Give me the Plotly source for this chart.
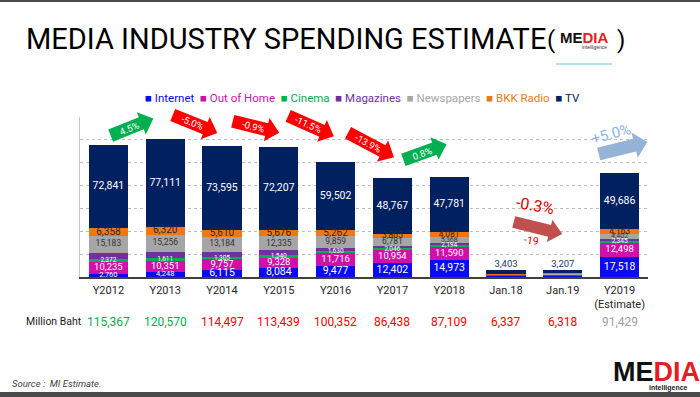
import math
import plotly.graph_objects as go

# ---------------- data ----------------
categories = ["Y2012", "Y2013", "Y2014", "Y2015", "Y2016", "Y2017", "Y2018",
              "Jan.18", "Jan.19", "Y2019<br>(Estimate)"]
internet = [2760, 4248, 6115, 8084, 9477, 12402, 14973, 900, 1150, 17518]
out_of_home = [10235, 10351, 9757, 9328, 11716, 10954, 11590, 950, 1000, 12498]
cinema = [2372, 1611, 1305, 1540, 1630, 2046, 2194, 200, 180, 2345]
magazines = [5618, 5673, 4931, 4269, 2906, 1683, 1122, 150, 110, 817]
newspapers = [15183, 15256, 13184, 12335, 9859, 6781, 5368, 400, 350, 4402]
bkk_radio = [6358, 6320, 5610, 5676, 5262, 3805, 4081, 334, 321, 4163]
tv = [72841, 77111, 73595, 72207, 59502, 48767, 47781, 3403, 3207, 49686]
totals = [115367, 120570, 114497, 113439, 100352, 86438, 87109, 6337, 6318, 91429]

series_names = ["Internet", "Out of Home", "Cinema", "Magazines", "Newspapers", "BKK Radio", "TV"]
series_values = [internet, out_of_home, cinema, magazines, newspapers, bkk_radio, tv]

# ---------------- styles ----------------
colors = ["#0A0AF5", "#D010A8", "#00B050", "#7030A0", "#A6A6A6", "#F07814", "#002060"]
total_colors = ["#00B050", "#00B050"] + ["#FF0000"] * 7 + ["#A0A0A0"]
FONT = "Roboto, sans-serif"
LOGO_FONT = "Liberation Sans, Arial, sans-serif"

# pixel layout of plot area
L, R, T, B = 80, 648, 117, 277
W, H = 700, 397


def pp(px, py):
    return (px - L) / (R - L), (B - py) / (B - T)


fig = go.Figure()

n = len(categories)
is_jan = ["Jan" in c for c in categories]
base = [0] * n
mids = []
for name, vals, col in zip(series_names, series_values, colors):
    fig.add_trace(go.Bar(x=categories, y=vals, name=name, marker_color=col,
                         marker_line_width=0, showlegend=False, hoverinfo="x+y+name"))
    mids.append([b + v / 2 for b, v in zip(base, vals)])
    base = [b + v for b, v in zip(base, vals)]


def fmt(v):
    return f"{v:,}"


def label_trace(idx, color, size_rule, skip_jan=True):
    vals = series_values[idx]
    xs, ys, ts, ss = [], [], [], []
    for i in range(n):
        if skip_jan and is_jan[i]:
            continue
        xs.append(categories[i]); ys.append(mids[idx][i]); ts.append(fmt(vals[i]))
        ss.append(size_rule(vals[i]))
    fig.add_trace(go.Scatter(x=xs, y=ys, text=ts, mode="text", showlegend=False,
                             textfont=dict(family=FONT, size=ss, color=color),
                             hoverinfo="skip", cliponaxis=False))


label_trace(0, "white", lambda v: 10.5 if v > 5000 else 7.5)
label_trace(1, "white", lambda v: 9.5)
label_trace(2, "white", lambda v: 6.5)
label_trace(4, "#333333", lambda v: 8.5 if v > 6000 else 7)
label_trace(5, "#2a2a2a", lambda v: 10 if v > 4500 else 8.5)

# TV labels: inside for years, above bar for January bars
tv_y = [totals[i] if is_jan[i] else mids[6][i] for i in range(n)]
tv_pos = ["top center" if is_jan[i] else "middle center" for i in range(n)]
tv_col = ["#1F3864" if is_jan[i] else "white" for i in range(n)]
tv_size = [9.5 if is_jan[i] else 10.5 for i in range(n)]
fig.add_trace(go.Scatter(x=categories, y=tv_y, text=[fmt(v) for v in tv], mode="text",
                         textposition=tv_pos, showlegend=False, hoverinfo="skip",
                         textfont=dict(family=FONT, size=tv_size, color=tv_col),
                         cliponaxis=False))

shapes = []
annotations = []


def ann(px, py, text, size, color="black", angle=0, xanchor="center", family=FONT, yanchor="middle"):
    x, y = pp(px, py)
    annotations.append(dict(x=x, y=y, xref="paper", yref="paper", text=text, showarrow=False,
                            xanchor=xanchor, yanchor=yanchor, textangle=angle,
                            font=dict(family=family, size=size, color=color)))


def arrow(cx, cy, length, angle, color, body=13, head=24, hl=13):
    pts = [(-length / 2, -body / 2), (length / 2 - hl, -body / 2), (length / 2 - hl, -head / 2),
           (length / 2, 0), (length / 2 - hl, head / 2), (length / 2 - hl, body / 2),
           (-length / 2, body / 2)]
    a = math.radians(angle)
    path = ""
    for k, (x, y) in enumerate(pts):
        sx = cx + x * math.cos(a) - y * math.sin(a)
        sy = cy + x * math.sin(a) + y * math.cos(a)
        px_, py_ = pp(sx, sy)
        path += ("M" if k == 0 else "L") + f"{px_:.5f},{py_:.5f} "
    path += "Z"
    shapes.append(dict(type="path", path=path, xref="paper", yref="paper",
                       fillcolor=color, line=dict(width=0), layer="above"))


# growth arrows between consecutive years (computed from totals)
arrow_specs = [  # (cx, cy, length, angle)
    (132, 127, 46, -22), (195, 124, 48, 22), (256, 127, 48, 14),
    (311, 126, 50, 24), (371, 145, 52, 28), (425, 152, 46, -20),
]
for k, (cx, cy, ln, ang) in enumerate(arrow_specs):
    g = totals[k + 1] / totals[k] - 1
    col = "#00B050" if g >= 0 else "#FF0000"
    arrow(cx, cy, ln, ang, col)
    ann(cx - 3 * math.cos(math.radians(ang)), cy - 3 * math.sin(math.radians(ang)),
        f"{g * 100:.1f}%", 9.5, "white", ang)

# January comparison
g_jan = totals[8] / totals[7] - 1
arrow(538, 228, 50, 14, "#C0504D", body=12, head=23)
ann(535, 205, f"{g_jan * 100:.1f}%", 16, "#E00000", 10)
ann(531, 240, f"{totals[8] - totals[7]:,}", 10.5, "#E00000", 8)

# 2019 estimate
g_19 = totals[9] / totals[6] - 1
arrow(623, 148, 50, -14, "#95B3D7", body=13, head=26)
ann(611, 134, f"+{g_19 * 100:.1f}%", 15, "#8DB4E2", -15)

# totals row
ann(84, 321, "Million Baht", 10.5, "#1a1a1a", xanchor="right")
for i in range(n):
    annotations.append(dict(x=categories[i], y=pp(0, 322)[1], xref="x", yref="paper",
                            yanchor="middle", text=fmt(totals[i]), showarrow=False,
                            font=dict(family=FONT, size=12, color=total_colors[i])))

# legend (single line of coloured items)
leg = "&nbsp;&nbsp;".join(
    f"<span style='color:{c}'>■ {nm}</span>" for nm, c in zip(series_names, colors))
ann(362, 98, leg, 11.5)

# title and logos
ann(24, 39, "MEDIA INDUSTRY SPENDING ESTIMATE", 29, "black", xanchor="left")
ann(551, 40, "(", 24, "black")
ann(584, 37, "<b>ME<span style='color:#E31E24'>DIA</span></b>", 15, "#111111", family=LOGO_FONT)
ann(594, 47, "intelligence", 5, "#333333", family=LOGO_FONT)
ann(621, 40, ")", 24, "black")
x0, y0 = pp(556, 64); x1, y1 = pp(612, 64)
shapes.append(dict(type="line", x0=x0, y0=y0, x1=x1, y1=y1, xref="paper", yref="paper",
                   line=dict(color="#9DD3F0", width=1.5)))

ann(656, 372, "<b>ME<span style='color:#E31E24'>DIA</span></b>", 27, "#111111", family=LOGO_FONT)
ann(690, 388, "<b>intelligence</b>", 7, "#222222", xanchor="right", family=LOGO_FONT)
ann(10, 383, "<i>Source :  MI Estimate.</i>", 9.5, "#404040", xanchor="left")

# top / bottom frame bands
for (ya, yb) in [(0, 2), (392, 397)]:
    _, p0 = pp(0, ya); _, p1 = pp(0, yb)
    xa, _ = pp(0, 0); xb, _ = pp(W, 0)
    shapes.append(dict(type="rect", x0=xa, x1=xb, y0=p1, y1=p0, xref="paper", yref="paper",
                       fillcolor="#4a4a4a", line=dict(width=0)))

fig.update_layout(
    width=W, height=H, barmode="stack", bargap=0.31,
    margin=dict(l=L, r=W - R, t=T, b=H - B, pad=0),
    paper_bgcolor="white", plot_bgcolor="white",
    showlegend=False, shapes=shapes, annotations=annotations,
    font=dict(family=FONT),
    xaxis=dict(type="category", showline=True, linecolor="#404040", linewidth=1.5,
               ticks="", tickfont=dict(family=FONT, size=11, color="#262626"),
               ticklabelstandoff=2, fixedrange=True),
    yaxis=dict(range=[0, 140000], dtick=20000, showgrid=True, griddash="dot",
               gridcolor="#bdbdbd", gridwidth=1, showticklabels=False, zeroline=False,
               showline=True, linecolor="#c8c8c8", linewidth=1, fixedrange=True),
)

fig.write_html("out.html", config={"displayModeBar": False},
               post_script="document.body.style.margin='0';document.body.style.overflow='hidden';")
